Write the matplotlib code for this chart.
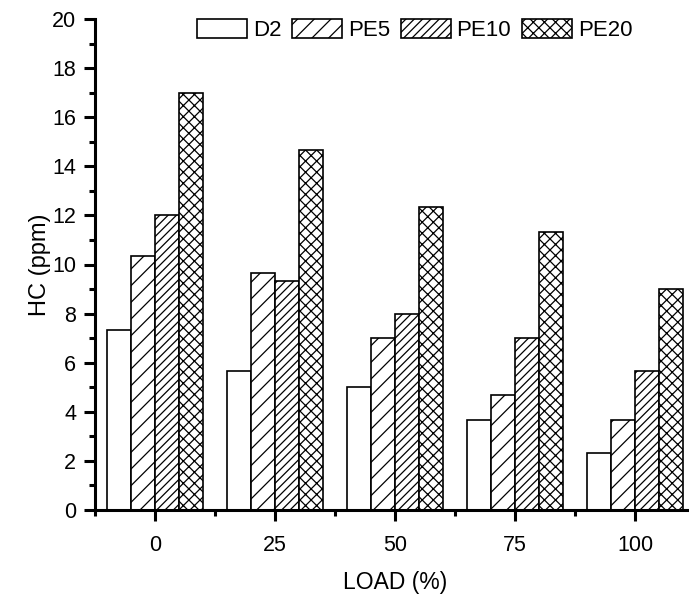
import matplotlib
matplotlib.use("Agg")
import matplotlib.pyplot as plt
import numpy as np
from matplotlib.ticker import MultipleLocator

plt.rcParams['font.family'] = ['Liberation Sans', 'DejaVu Sans']
plt.rcParams['hatch.linewidth'] = 0.9

loads = ['0', '25', '50', '75', '100']
series = ['D2', 'PE5', 'PE10', 'PE20']
d2 = [7.33, 5.67, 5.0, 3.67, 2.33]
pe5 = [10.33, 9.67, 7.0, 4.67, 3.67]
pe10 = [12.0, 9.33, 8.0, 7.0, 5.67]
pe20 = [17.0, 14.67, 12.33, 11.33, 9.0]
values = [d2, pe5, pe10, pe20]
hatches = ['', '//', '////', 'xxx']

fig = plt.figure(figsize=(6.89, 5.95), dpi=100)
ax = fig.add_axes([95/689, 85/595, 600/689, 491/595])

x = np.arange(len(loads))
w = 0.2
for i, (name, vals, h) in enumerate(zip(series, values, hatches)):
    ax.bar(x + (i - 1.5) * w, vals, width=w, facecolor='white', edgecolor='black',
           linewidth=1.2, hatch=h, label=name)

ax.set_xlim(-0.5, 4.5)
ax.set_ylim(0, 20)
ax.set_xticks(x)
ax.set_xticklabels(loads)
ax.xaxis.set_minor_locator(MultipleLocator(0.5))
ax.yaxis.set_major_locator(MultipleLocator(2))
ax.yaxis.set_minor_locator(MultipleLocator(1))
for s in ['top', 'right']:
    ax.spines[s].set_visible(False)
for s in ['left', 'bottom']:
    ax.spines[s].set_linewidth(2.2)
ax.tick_params(which='major', direction='out', length=8, width=2.2, labelsize=15.5)
ax.tick_params(which='minor', direction='out', length=4, width=2.2)
ax.tick_params(axis='x', which='major', pad=10)
ax.tick_params(axis='y', which='major', pad=5.5)
ax.set_xlabel('LOAD (%)', fontsize=16.5, labelpad=11)
ax.set_ylabel('HC (ppm)', fontsize=17, labelpad=1)

leg = fig.legend(loc='center left', bbox_to_anchor=(186/689, 1-30/595), ncol=4,
                 frameon=False, fontsize=16, handlelength=2.25, handleheight=0.95,
                 handletextpad=0.25, columnspacing=0.5, borderpad=0)

fig.savefig('out.png', dpi=100)
